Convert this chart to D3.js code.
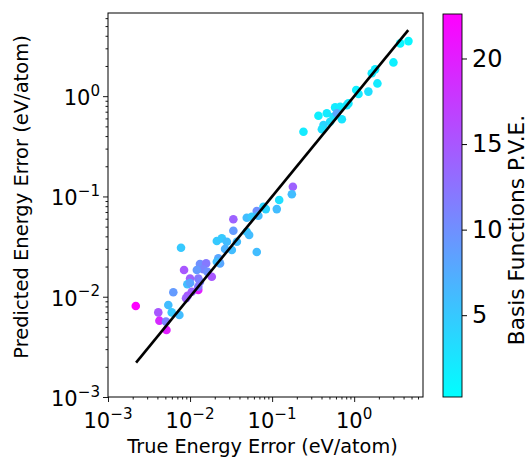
<!DOCTYPE html>
<html>
<head>
<meta charset="UTF-8">
<script src="https://cdn.jsdelivr.net/npm/d3@7"></script>
<style>
  body { margin: 0; background: #fff; }
  text { font-family: "DejaVu Sans", sans-serif; fill: #000; }
</style>
</head>
<body>
<svg id="chart" width="530" height="459"></svg>
<script>
    // true energy error (x), predicted energy error (y), basis functions p.v.e. (c)
    var trueErr = [4.59, 3.64, 3.01, 1.80, 1.64, 1.92, 1.49, 1.06, 1.13, 0.851, 0.815, 0.586, 0.675, 0.367, 0.464,
        0.560, 0.708, 0.509, 0.423, 0.404, 0.241, 0.615,
        0.179, 0.174, 0.122, 0.114, 0.0784, 0.0838, 0.065, 0.068, 0.0491, 0.0565, 0.0337, 0.0337, 0.0491, 0.0525,
        0.0212, 0.0244, 0.0281, 0.0372, 0.0267, 0.0323, 0.065, 0.00776, 0.0221, 0.0232, 0.0212, 0.0132, 0.0157,
        0.0145, 0.0121, 0.0163, 0.0184, 0.00845, 0.0100, 0.0126, 0.0132, 0.00927, 0.0126, 0.0105, 0.0126,
        0.00218, 0.00625, 0.00543, 0.0041, 0.00598, 0.00741, 0.00423, 0.00509, 0.00516, 0.00933, 0.00893, 0.0100];
    var predErr = [3.54, 3.36, 2.17, 1.85, 1.69, 1.34, 1.11, 1.15, 1.05, 0.847, 0.814, 0.773, 0.783, 0.638, 0.675,
        0.624, 0.588, 0.556, 0.515, 0.467, 0.442, 0.675,
        0.125, 0.105, 0.092, 0.0748, 0.0789, 0.0748, 0.0714, 0.0643, 0.0614, 0.0628, 0.0592, 0.0455, 0.0445, 0.0412,
        0.0359, 0.0382, 0.0353, 0.0353, 0.0299, 0.0292, 0.0279, 0.0308, 0.0242, 0.0215, 0.0223, 0.0212, 0.0215,
        0.0188, 0.0185, 0.0177, 0.0158, 0.0185, 0.0152, 0.0152, 0.0141, 0.0133, 0.0117, 0.0112, 0.0126,
        0.00807, 0.0111, 0.00826, 0.00698, 0.00698, 0.00658, 0.00577, 0.00564, 0.00466, 0.0102, 0.00964, 0.0137];
    var basisFns = [1, 1, 1.5, 2, 2, 2, 3, 1.5, 2, 2, 2.5, 2, 2, 1.5, 2,
        3, 2.5, 3, 4, 3, 2, 8,
        14, 6, 3, 6, 4, 4, 10, 6, 6, 5, 14, 9, 5, 6,
        5, 5, 6, 6, 7, 6, 6, 5, 8, 8, 6, 10, 12,
        11, 9, 10, 15, 15, 14, 12, 11, 6, 20, 14, 12,
        22.5, 9, 6, 15, 5, 6, 19, 11, 20, 15, 14, 8];

    // y = x reference line
    var fitLine = [[0.0022, 0.0022], [4.56, 4.56]];

    var decades = [1e-3, 1e-2, 1e-1, 1e0];
    var decadeExp = ["\u22123", "\u22122", "\u22121", "0"];
    var cbTicks = [5, 10, 15, 20];
    var cbRange = [0.22, 22.6];

    var svg = d3.select("#chart");
    var pLeft = 108, pRight = 423, pTop = 13, pBottom = 397;

    var x = d3.scaleLog().domain([1e-3, 6.9]).range([pLeft, pRight]);
    var y = d3.scaleLog().domain([1e-3, 6.75]).range([pBottom, pTop]);
    var color = d3.scaleLinear().domain(cbRange).range(["#00ffff", "#ff00ff"]).interpolate(d3.interpolateRgb);

    // minor ticks 2..9 in each decade
    function minors(dom) {
        var out = [];
        decades.concat([10]).forEach(function(d) {
            for (var k = 2; k <= 9; k++) {
                var v = d * k;
                if (v > dom[0] && v <= dom[1]) out.push(v);
            }
        });
        return out;
    }

    function supLabel(sel, exp, size) {
        sel.append("tspan").text("10");
        sel.append("tspan").attr("dy", -size * 0.45).style("font-size", (size * 0.72) + "px").text(exp);
    }

    // axes
    var gx = svg.append("g").attr("transform", "translate(0," + pBottom + ")");
    gx.call(d3.axisBottom(x).tickValues(minors(x.domain())).tickSize(2.5).tickFormat(""));
    gx.append("g").call(d3.axisBottom(x).tickValues(decades).tickSize(5).tickFormat(""));
    gx.selectAll(".domain").remove();

    var gy = svg.append("g").attr("transform", "translate(" + pLeft + ",0)");
    gy.call(d3.axisLeft(y).tickValues(minors(y.domain())).tickSize(2.5).tickFormat(""));
    gy.append("g").call(d3.axisLeft(y).tickValues(decades).tickSize(5).tickFormat(""));
    gy.selectAll(".domain").remove();
    svg.selectAll(".tick line").attr("stroke", "#000").attr("stroke-width", 0.9);

    decades.forEach(function(d, i) {
        var t = svg.append("text").attr("x", x(d)).attr("y", pBottom + 31)
            .attr("text-anchor", "middle").style("font-size", "21px");
        supLabel(t, decadeExp[i], 21);
        var u = svg.append("text").attr("x", pLeft - 8).attr("y", y(d) + 9)
            .attr("text-anchor", "end").style("font-size", "21px");
        supLabel(u, decadeExp[i], 21);
    });

    // points
    var pts = trueErr.map(function(v, i) { return {x: v, y: predErr[i], c: basisFns[i]}; });
    svg.append("g").selectAll("circle")
        .data(pts)
        .enter().append("circle")
        .attr("cx", function(d) { return x(d.x); })
        .attr("cy", function(d) { return y(d.y); })
        .attr("r", 4.3)
        .style("fill", function(d) { return color(d.c); });

    svg.append("path")
        .attr("d", d3.line().x(function(d) { return x(d[0]); }).y(function(d) { return y(d[1]); })(fitLine))
        .attr("stroke", "#000").attr("stroke-width", 2.6).attr("fill", "none");

    svg.append("rect").attr("x", pLeft).attr("y", pTop).attr("width", pRight - pLeft).attr("height", pBottom - pTop)
        .attr("fill", "none").attr("stroke", "#000").attr("stroke-width", 1);

    svg.append("text").attr("x", (pLeft + pRight) / 2 - 3).attr("y", 453)
        .attr("text-anchor", "middle").style("font-size", "19.3px").text("True Energy Error (eV/atom)");
    svg.append("text").attr("transform", "translate(28," + 197 + ") rotate(-90)")
        .attr("text-anchor", "middle").style("font-size", "19.5px").text("Predicted Energy Error (eV/atom)");

    // colorbar
    var cbL = 443, cbW = 19, cbTop = 14, cbBot = 397;
    var cy = d3.scaleLinear().domain(cbRange).range([cbBot, cbTop]);
    var grad = svg.append("defs").append("linearGradient").attr("id", "cool")
        .attr("x1", 0).attr("y1", 1).attr("x2", 0).attr("y2", 0);
    grad.append("stop").attr("offset", 0).attr("stop-color", color(cbRange[0]));
    grad.append("stop").attr("offset", 1).attr("stop-color", color(cbRange[1]));
    svg.append("rect").attr("x", cbL).attr("y", cbTop).attr("width", cbW).attr("height", cbBot - cbTop)
        .attr("fill", "url(#cool)").attr("stroke", "#000").attr("stroke-width", 0.9);

    var gc = svg.append("g").attr("transform", "translate(" + (cbL + cbW) + ",0)");
    gc.call(d3.axisRight(cy).tickValues(cbTicks).tickSize(5).tickPadding(5).tickFormat(d3.format("d")));
    gc.selectAll(".domain").remove();
    gc.selectAll(".tick line").attr("stroke", "#000");
    gc.selectAll(".tick text").style("font-size", "24px").attr("font-family", "DejaVu Sans").attr("fill", "#000");

    svg.append("text").attr("transform", "translate(524," + 230 + ") rotate(-90)")
        .attr("text-anchor", "middle").style("font-size", "21.7px").text("Basis Functions P.V.E.");
</script>
</body>
</html>
